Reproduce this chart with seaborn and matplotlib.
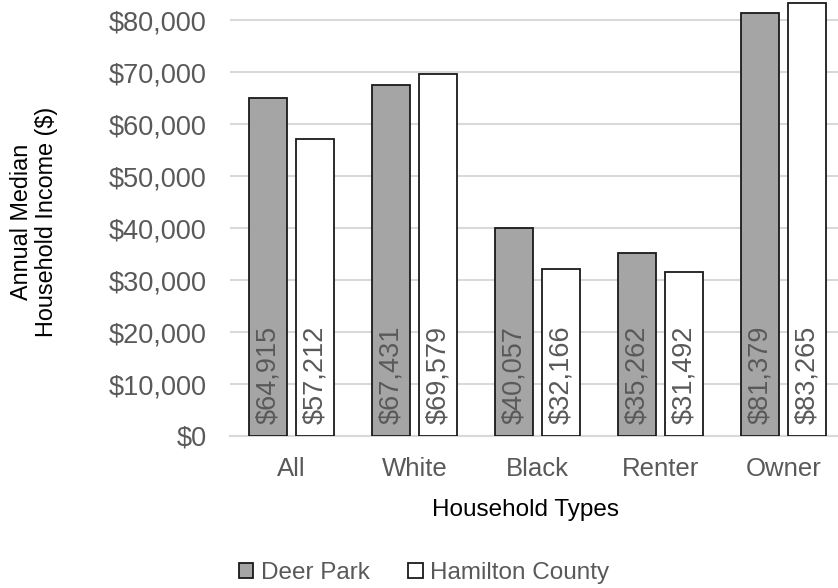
import matplotlib
matplotlib.use("Agg")
import matplotlib.pyplot as plt
import seaborn as sns
import pandas as pd
from matplotlib.patches import Patch

categories = ["All", "White", "Black", "Renter", "Owner"]
areas = ["Deer Park", "Hamilton County"]
deer_park = [64915, 67431, 40057, 35262, 81379]
hamilton = [57212, 69579, 32166, 31492, 83265]
y_ticks = [0, 10000, 20000, 30000, 40000, 50000, 60000, 70000, 80000]

df = pd.DataFrame({
    "Household Types": categories * 2,
    "Area": [areas[0]] * len(categories) + [areas[1]] * len(categories),
    "Income": deer_park + hamilton,
})

sns.set_theme(style="white")
plt.rcParams["font.family"] = ["Liberation Sans", "DejaVu Sans"]

fig = plt.figure(figsize=(8.38, 5.88), dpi=100)
ax = fig.add_axes([230 / 838, 152 / 588, 615 / 838, 436 / 588])

palette = {areas[0]: "#a5a5a5", areas[1]: "#ffffff"}
sns.barplot(data=df, x="Household Types", y="Income", hue="Area",
            order=categories, hue_order=areas, palette=palette,
            edgecolor="#1a1a1a", linewidth=1.3, width=0.764, gap=0.19,
            saturation=1, ax=ax, legend=False, zorder=3)

tick_grey = "#595959"
for container, values in zip(ax.containers, [deer_park, hamilton]):
    for bar, v in zip(container, values):
        ax.annotate(f"${v:,.0f}", (bar.get_x() + bar.get_width() / 2, 0),
                    xytext=(0, 8.5), textcoords="offset points",
                    rotation=90, ha="center", va="bottom",
                    fontsize=19.5, color=tick_grey, zorder=4)

ax.set_ylim(0, 83850)
ax.set_yticks(y_ticks)
ax.set_yticklabels([f"${t:,.0f}" for t in y_ticks])
ax.yaxis.grid(True, color="#d9d9d9", linewidth=1.5, zorder=0)
ax.set_axisbelow(True)
for side in ["top", "right", "left"]:
    ax.spines[side].set_visible(False)
ax.spines["bottom"].set_color("#d9d9d9")
ax.spines["bottom"].set_linewidth(1.5)
ax.tick_params(axis="both", length=0, labelcolor=tick_grey)
ax.tick_params(axis="y", pad=17, labelsize=19.5)
ax.tick_params(axis="x", pad=15, labelsize=18.5)

ax.set_xlabel("Household Types", fontsize=17.5, color="black")
ax.xaxis.set_label_coords((525 - 230) / 615, -(499 - 436) / 436)
ax.set_ylabel("Annual Median\nHousehold Income ($)", fontsize=16.8,
              color="black", linespacing=1.1)
ax.yaxis.set_label_coords(-(230 - 58) / 615, 0.49)

handles = [Patch(facecolor=palette[a], edgecolor="#1a1a1a", linewidth=1.3, label=a)
           for a in areas]
leg = fig.legend(handles=handles, loc="center", bbox_to_anchor=(424 / 838, 1 - 573 / 588),
                 ncol=2, frameon=False, fontsize=17.5, handlelength=0.6,
                 handleheight=0.6, handletextpad=0.3, columnspacing=1.6)
for t in leg.get_texts():
    t.set_color(tick_grey)

fig.savefig("out.png", dpi=100)
